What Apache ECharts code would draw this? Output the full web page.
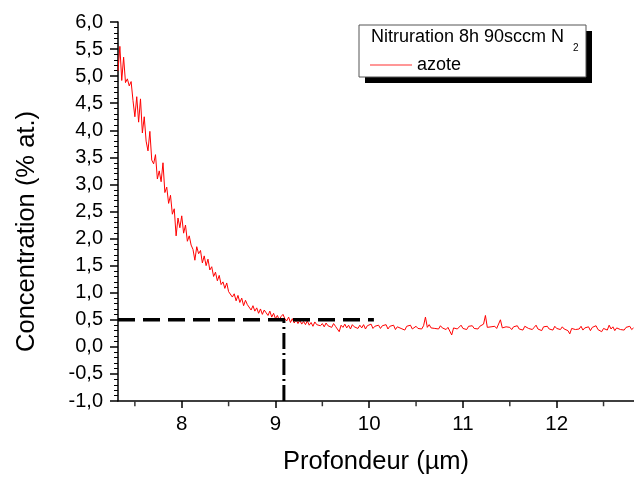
<!DOCTYPE html>
<html><head><meta charset="utf-8">
<script src="https://cdn.jsdelivr.net/npm/echarts@6/dist/echarts.min.js"></script>
<style>html,body{margin:0;padding:0;background:#fff}#c{width:634px;height:480px}</style>
</head><body><div id="c"></div>
<script>
const depth = [
7.32,7.34,7.36,7.38,7.40,7.42,7.44,7.46,7.48,7.50,
7.52,7.54,7.56,7.58,7.60,7.62,7.64,7.66,7.68,7.70,
7.72,7.74,7.76,7.78,7.80,7.82,7.84,7.86,7.88,7.90,
7.92,7.94,7.96,7.98,8.00,8.02,8.04,8.06,8.08,8.10,
8.12,8.14,8.16,8.18,8.20,8.22,8.24,8.26,8.28,8.30,
8.32,8.34,8.36,8.38,8.40,8.42,8.44,8.46,8.48,8.50,
8.52,8.54,8.56,8.58,8.60,8.62,8.64,8.66,8.68,8.70,
8.72,8.74,8.76,8.78,8.80,8.82,8.84,8.86,8.88,8.90,
8.92,8.94,8.96,8.98,9.00,9.02,9.04,9.06,9.08,9.10,
9.12,9.14,9.16,9.18,9.20,9.22,9.24,9.26,9.28,9.30,
9.32,9.34,9.36,9.38,9.40,9.42,9.44,9.46,9.48,9.50,
9.52,9.54,9.56,9.58,9.60,9.62,9.64,9.66,9.68,9.70,
9.72,9.74,9.76,9.78,9.80,9.82,9.84,9.86,9.88,9.90,
9.92,9.94,9.96,9.98,10.00,10.02,10.04,10.06,10.08,10.10,
10.12,10.14,10.16,10.18,10.20,10.22,10.24,10.26,10.28,10.30,
10.32,10.34,10.36,10.38,10.40,10.42,10.44,10.46,10.48,10.50,
10.52,10.54,10.56,10.58,10.60,10.62,10.64,10.66,10.68,10.70,
10.72,10.74,10.76,10.78,10.80,10.82,10.84,10.86,10.88,10.90,
10.92,10.94,10.96,10.98,11.00,11.02,11.04,11.06,11.08,11.10,
11.12,11.14,11.16,11.18,11.20,11.22,11.24,11.26,11.28,11.30,
11.32,11.34,11.36,11.38,11.40,11.42,11.44,11.46,11.48,11.50,
11.52,11.54,11.56,11.58,11.60,11.62,11.64,11.66,11.68,11.70,
11.72,11.74,11.76,11.78,11.80,11.82,11.84,11.86,11.88,11.90,
11.92,11.94,11.96,11.98,12.00,12.02,12.04,12.06,12.08,12.10,
12.12,12.14,12.16,12.18,12.20,12.22,12.24,12.26,12.28,12.30,
12.32,12.34,12.36,12.38,12.40,12.42,12.44,12.46,12.48,12.50,
12.52,12.54,12.56,12.58,12.60,12.62,12.64,12.66,12.68,12.70,
12.72,12.74,12.76,12.78,12.80,12.82
];
const azote = [
5.10,5.55,4.92,5.35,4.88,4.95,4.82,4.90,4.55,4.25,
4.62,4.15,4.58,3.95,4.25,3.80,3.62,3.98,3.45,3.38,
3.55,3.10,3.25,3.05,3.40,2.85,2.95,2.65,2.80,2.45,
2.55,2.05,2.38,2.20,2.42,2.10,2.25,1.95,2.05,1.88,
1.80,1.60,1.85,1.72,1.78,1.55,1.68,1.50,1.62,1.42,
1.48,1.30,1.38,1.22,1.32,1.15,1.20,1.08,1.18,1.02,
1.05,0.92,0.98,0.85,0.95,0.82,0.90,0.76,0.86,0.78,
0.80,0.68,0.76,0.66,0.72,0.62,0.70,0.60,0.68,0.63,
0.58,0.66,0.55,0.62,0.52,0.58,0.50,0.56,0.60,0.52,
0.48,0.55,0.45,0.52,0.44,0.50,0.43,0.49,0.42,0.47,
0.41,0.48,0.40,0.45,0.38,0.46,0.41,0.44,0.39,0.43,
0.37,0.44,0.39,0.42,0.36,0.43,0.38,0.41,0.28,0.40,
0.36,0.42,0.35,0.40,0.33,0.41,0.37,0.39,0.34,0.40,
0.35,0.41,0.33,0.39,0.36,0.42,0.34,0.38,0.35,0.40,
0.34,0.39,0.36,0.41,0.33,0.38,0.35,0.40,0.32,0.37,
0.39,0.34,0.37,0.31,0.38,0.35,0.40,0.33,0.36,0.38,
0.34,0.37,0.33,0.39,0.55,0.36,0.41,0.35,0.38,0.34,
0.37,0.33,0.39,0.35,0.38,0.32,0.36,0.34,0.22,0.35,
0.38,0.33,0.36,0.40,0.34,0.37,0.32,0.38,0.35,0.39,
0.34,0.37,0.33,0.38,0.35,0.42,0.58,0.36,0.33,0.37,
0.35,0.38,0.34,0.36,0.50,0.35,0.33,0.37,0.34,0.36,
0.32,0.37,0.34,0.39,0.33,0.36,0.31,0.38,0.35,0.34,
0.37,0.32,0.36,0.40,0.33,0.35,0.30,0.37,0.34,0.38,
0.33,0.36,0.31,0.38,0.34,0.35,0.32,0.37,0.33,0.36,
0.30,0.24,0.34,0.37,0.32,0.35,0.33,0.38,0.31,0.35,
0.33,0.37,0.30,0.36,0.34,0.39,0.32,0.35,0.28,0.34,
0.36,0.31,0.40,0.33,0.37,0.30,0.35,0.38,0.32,0.34,
0.31,0.36,0.33,0.38,0.32,0.35
];
const hGuideX = [7.32, 10.05];
const hGuideY = [0.5, 0.5];
const vGuideX = [9.09, 9.09];
const vGuideY = [-1.0, 0.5];
const xMajorTicks = [8, 9, 10, 11, 12];
const xMinorTicks = [7.5, 8.5, 9.5, 10.5, 11.5, 12.5];
const Y_MIN = -1, Y_MAX = 6;

const FONT = 'Liberation Sans, Arial, Helvetica, sans-serif';
const chart = echarts.init(document.getElementById('c'), null, {renderer: 'canvas'});
const zip = (xs, ys) => xs.map((x, i) => [x, ys[i]]);
chart.setOption({
  animation: false,
  backgroundColor: '#fff',
  textStyle: {fontFamily: FONT},
  grid: {left: 118, right: 0, top: 22, bottom: 78, containLabel: false},
  xAxis: {
    type: 'value', min: 7.32, max: 12.825, position: 'bottom',
    splitLine: {show: false},
    name: 'Profondeur (µm)', nameLocation: 'middle', nameGap: 48,
    nameTextStyle: {fontSize: 25.5, color: '#000', fontFamily: FONT},
    axisLine: {show: true, onZero: false, lineStyle: {color: '#000', width: 1.5}},
    axisTick: {show: true, inside: false, length: 7, customValues: xMajorTicks, lineStyle: {color: '#000', width: 1.5}},
    axisLabel: {show: true, customValues: xMajorTicks, margin: 13, fontSize: 20.5, color: '#000', fontFamily: FONT}
  },
  yAxis: {
    type: 'value', min: Y_MIN, max: Y_MAX, interval: 0.5,
    name: 'Concentration (% at.)', nameLocation: 'middle', nameGap: 78,
    nameTextStyle: {fontSize: 25.5, color: '#000', fontFamily: FONT, padding: [0, 40, 0, 0]},
    axisLine: {show: true, onZero: false, lineStyle: {color: '#000', width: 1.5}},
    axisTick: {show: true, inside: false, length: 8, lineStyle: {color: '#000', width: 1.5}},
    minorTick: {show: true, splitNumber: 5, length: 4, lineStyle: {color: '#000', width: 1}},
    splitLine: {show: false},
    axisLabel: {margin: 15, fontSize: 20, color: '#000', fontFamily: FONT,
      formatter: v => v.toFixed(1).replace('.', ',')}
  },
  legend: {
    data: [{name: 'azote', icon: 'rect', itemStyle: {color: '#ff3030'}}],
    left: 370, top: 56, z: 10, padding: 0,
    itemWidth: 42, itemHeight: 1.2, itemGap: 5,
    textStyle: {fontSize: 18, color: '#000', fontFamily: FONT}
  },
  graphic: [
    {type: 'rect', z: 5, shape: {x: 365, y: 31, width: 227, height: 52}, style: {fill: '#000'}},
    {type: 'rect', z: 6, shape: {x: 359, y: 25, width: 227, height: 52}, style: {fill: '#fff', stroke: '#555', lineWidth: 1}},
    {type: 'text', z: 7, x: 371, y: 28, style: {text: 'Nitruration 8h 90sccm N', fontSize: 18, fill: '#000', fontFamily: FONT}},
    {type: 'text', z: 7, x: 573, y: 43, style: {text: '2', fontSize: 10, fill: '#000', fontFamily: FONT}}
  ],
  series: [
    {name: 'azote', type: 'line', data: zip(depth, azote), symbol: 'none', showSymbol: false,
      lineStyle: {color: '#ff0000', width: 1}, itemStyle: {color: '#ff0000'}, clip: true},
    {name: 'guideH', type: 'line', data: zip(hGuideX, hGuideY), symbol: 'none', silent: true,
      lineStyle: {color: '#000', width: 3.5, type: [17, 8]}, z: 3},
    {name: 'guideV', type: 'line', data: zip(vGuideX, vGuideY), symbol: 'none', silent: true,
      lineStyle: {color: '#000', width: 3, type: [16, 4, 2, 4]}, z: 3},
    {name: 'xMinorTicks', type: 'scatter', data: xMinorTicks.map(x => [x, Y_MIN]), silent: true, clip: false,
      symbol: 'rect', symbolSize: [1.5, 4.5], symbolOffset: [0, 3], itemStyle: {color: '#000'}, z: 4}
  ]
});
</script>
</body></html>
